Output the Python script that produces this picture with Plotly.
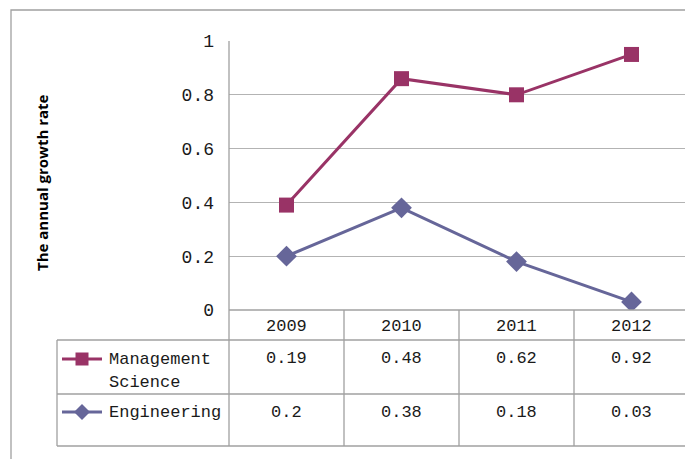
import plotly.graph_objects as go

years = ["2009", "2010", "2011", "2012"]
management = [0.19, 0.48, 0.62, 0.92]
engineering = [0.2, 0.38, 0.18, 0.03]
y_title = "The annual growth rate"
y_ticks = [0, 0.2, 0.4, 0.6, 0.8, 1]

OFF = 8  # page body margin
W, H = 693 - OFF, 459 - OFF
# plot area in reference page pixels
L, R, T, B = 229, 689, 41, 310
PW, PH = R - L, B - T

def px(x):
    return (x - L) / PW

def py(y):
    return (B - y) / PH

C_MAN = "#993366"
C_ENG = "#666699"
GRID = "#b3b3b3"
BORDER = "#a0a0a0"
MONO = "Liberation Mono, DejaVu Sans Mono, monospace"

fig = go.Figure()
# stacked line chart (Excel "stacked line")
fig.add_trace(go.Scatter(x=years, y=engineering, name="Engineering", stackgroup="s", fill="none",
                         mode="lines+markers", line=dict(color=C_ENG, width=3),
                         marker=dict(symbol="diamond", size=16, color=C_ENG), hoverinfo="x+y"))
fig.add_trace(go.Scatter(x=years, y=management, name="Management Science", stackgroup="s", fill="none",
                         mode="lines+markers", line=dict(color=C_MAN, width=3),
                         marker=dict(symbol="square", size=15, color=C_MAN), hoverinfo="x+y"))

shapes = []
def line(x0, y0, x1, y1, color=BORDER, w=1.3):
    shapes.append(dict(type="line", xref="paper", yref="paper", x0=px(x0), y0=py(y0), x1=px(x1), y1=py(y1),
                       line=dict(color=color, width=w)))

# outer frame
shapes.append(dict(type="rect", xref="paper", yref="paper", x0=px(11), y0=py(475), x1=px(705), y1=py(10),
                   line=dict(color=BORDER, width=1.3), fillcolor="rgba(0,0,0,0)", layer="below"))
# table
line(229, 310, 689, 310)
for yy in (340, 394, 446):
    line(57, yy, 689, yy)
line(57, 340, 57, 446)
line(229, 41, 229, 446)
for xx in (344, 459, 574, 689):
    line(xx, 310, xx, 446)

# legend keys inside the table
for yc, col, sym in ((359, C_MAN, "sq"), (412, C_ENG, "di")):
    line(62, yc, 102, yc, color=col, w=3)
    cx = 82
    if sym == "sq":
        shapes.append(dict(type="rect", xref="paper", yref="paper", x0=px(cx - 6.5), x1=px(cx + 6.5),
                           y0=py(yc + 6.5), y1=py(yc - 6.5), line=dict(width=0), fillcolor=col))
    else:
        d = 8
        path = "M {} {} L {} {} L {} {} L {} {} Z".format(px(cx), py(yc - d), px(cx + d), py(yc),
                                                            px(cx), py(yc + d), px(cx - d), py(yc))
        shapes.append(dict(type="path", xref="paper", yref="paper", path=path, line=dict(width=0), fillcolor=col))

ann = []
def text(t, x, y, xanchor="center", size=17, font=MONO, **kw):
    ann.append(dict(text=t, xref="paper", yref="paper", x=px(x), y=py(y), xanchor=xanchor, yanchor="middle",
                    showarrow=False, font=dict(family=font, size=size, color="#1a1a1a"), **kw))

centers = [286.5, 401.5, 516.5, 631.5]
for cx, yr in zip(centers, years):
    text(yr, cx, 326)
for cx, v in zip(centers, management):
    text(f"{v:g}", cx, 358)
for cx, v in zip(centers, engineering):
    text(f"{v:g}", cx, 412)
text("Management", 107, 359, xanchor="left")
text("Science", 107, 383, xanchor="left")
text("Engineering", 107, 412, xanchor="left")
ann.append(dict(text="<b>" + y_title + "</b>", xref="paper", yref="paper", x=px(42), y=py(183),
                xanchor="center", yanchor="middle", textangle=-90, showarrow=False,
                font=dict(family="Open Sans, Arial, sans-serif", size=15, color="#000000")))

fig.update_layout(
    width=W, height=H, margin=dict(l=L - OFF, r=W - (R - OFF), t=T - OFF, b=H - (B - OFF)),
    paper_bgcolor="white", plot_bgcolor="white", showlegend=False,
    shapes=shapes, annotations=ann,
    xaxis=dict(type="category", range=[-0.5, 3.5], showticklabels=False, showgrid=False,
               zeroline=False, showline=False, ticks=""),
    yaxis=dict(range=[0, 1], tickvals=y_ticks, ticktext=[f"{v:g}" for v in y_ticks],
               showgrid=True, gridcolor=GRID, gridwidth=1.3, zeroline=False, showline=False,
               ticks="", ticklabelstandoff=14,
               tickfont=dict(family=MONO, size=18, color="#1a1a1a")),
)
fig.write_html("out.html")
